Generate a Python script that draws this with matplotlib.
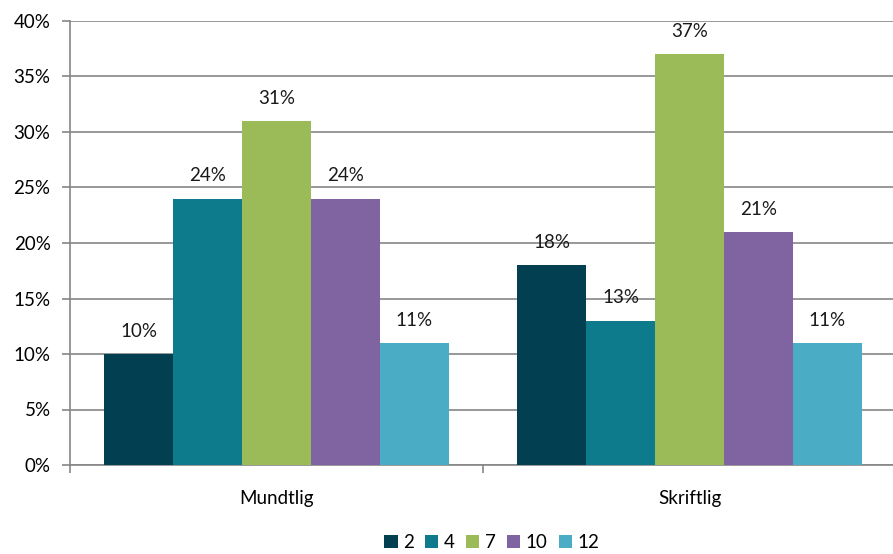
import numpy as np
import matplotlib.pyplot as plt
from matplotlib.ticker import FixedLocator, PercentFormatter

plt.rcParams['font.family'] = ['Lato', 'DejaVu Sans']

groups = ["Mundtlig", "Skriftlig"]
grades = ["2", "4", "7", "10", "12"]
values = {
    "2": [10, 18],
    "4": [24, 13],
    "7": [31, 37],
    "10": [24, 21],
    "12": [11, 11],
}
colors = ["#023F50", "#0D7B8C", "#9BBB59", "#8064A2", "#4BACC6"]

fig = plt.figure(figsize=(8.93, 5.54), dpi=100)
ax = fig.add_axes([70 / 893, 89 / 554, 826 / 893, 444 / 554])

x = np.arange(len(groups))
width = 0.167
grey = "#868686"
fs = 13.5

for i, g in enumerate(grades):
    pos = x + (i - 2) * width
    bars = ax.bar(pos, values[g], width, color=colors[i], label=g, zorder=3)
    for b, v in zip(bars, values[g]):
        ax.text(b.get_x() + b.get_width() / 2, v + 2.05, f"{v}%",
                ha="center", va="center", fontsize=fs, color="#1a1a1a")

ax.set_ylim(0, 40)
ax.set_xlim(-0.5, 1.5)
ax.yaxis.set_major_locator(FixedLocator(np.arange(0, 41, 5)))
ax.yaxis.set_major_formatter(PercentFormatter(decimals=0))
ax.yaxis.grid(True, color=grey, linewidth=1.2, zorder=0)

ax.set_xticks([-0.5, 0.5, 1.5])
ax.set_xticklabels([])
ax.set_xticks(x, minor=True)
ax.set_xticklabels(groups, minor=True)
ax.tick_params(axis="x", which="minor", length=0, pad=18, labelsize=fs)
ax.tick_params(axis="x", which="major", length=6, color=grey, width=1.2)
ax.tick_params(axis="y", length=6, color=grey, width=1.2, labelsize=fs, pad=8)

for s in ["top", "right"]:
    ax.spines[s].set_visible(False)
for s in ["left", "bottom"]:
    ax.spines[s].set_color(grey)
    ax.spines[s].set_linewidth(1.2)

fig.legend(loc="lower center", ncol=5, frameon=False, bbox_to_anchor=(0.551, -0.025),
           fontsize=fs, handlelength=0.7, handleheight=0.7, handletextpad=0.3,
           columnspacing=0.6)

fig.savefig("out.png", dpi=100)
